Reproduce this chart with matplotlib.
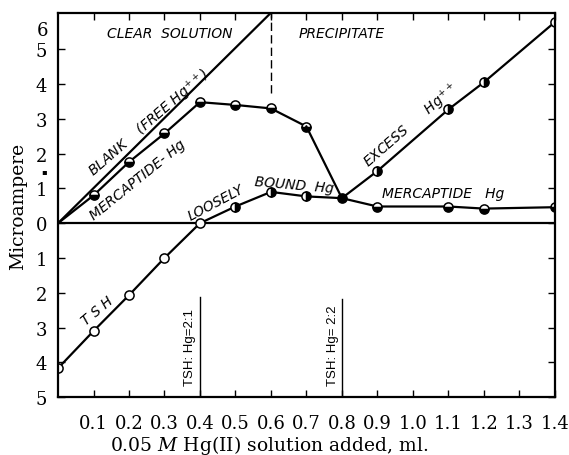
import matplotlib
matplotlib.use("Agg")
import matplotlib.pyplot as plt

# ---- data ----
xticks = [0.1, 0.2, 0.3, 0.4, 0.5, 0.6, 0.7, 0.8, 0.9, 1.0, 1.1, 1.2, 1.3, 1.4]
xtick_labels = ["0.1", "0.2", "0.3", "0.4", "0.5", "0.6", "0.7", "0.8", "0.9", "1.0", "1.1", "1.2", "1.3", "1.4"]
yticks = [-5, -4, -3, -2, -1, 0, 1, 2, 3, 4, 5]
ytick_labels = ["5", "4", "3", "2", "1", "0", "1", "2", "3", "4", "5"]

blank_x = [0.0, 0.6]
blank_y = [0.0, 6.05]

merc_x = [0.0, 0.1, 0.2, 0.3, 0.4, 0.5, 0.6, 0.7]
merc_y = [0.0, 0.80, 1.76, 2.58, 3.48, 3.40, 3.30, 2.78]

merc2_x = [0.7, 0.8, 0.9, 1.1, 1.2, 1.4]
merc2_y = [2.78, 0.72, 0.48, 0.48, 0.42, 0.46]

loose_x = [0.4, 0.5, 0.6, 0.7, 0.8]
loose_y = [0.0, 0.48, 0.90, 0.77, 0.72]

excess_x = [0.8, 0.9, 1.1, 1.2, 1.4]
excess_y = [0.72, 1.50, 3.27, 4.05, 5.78]

tsh_x = [0.0, 0.1, 0.2, 0.3, 0.4]
tsh_y = [-4.17, -3.10, -2.07, -1.00, 0.0]

plt.rcParams['mathtext.fontset'] = 'dejavuserif'

fig = plt.figure(figsize=(5.69, 4.56), dpi=100)
ax = fig.add_axes([0.102, 0.127, 0.873, 0.842])
ax.set_xlim(0, 1.4)
ax.set_ylim(-5, 6.04)

lw = 1.6
ms = 6.6
mk = dict(marker='o', markersize=ms, markeredgecolor='black', markerfacecolor='black',
          markerfacecoloralt='white', markeredgewidth=1.1)

# zero line
ax.axhline(0, color='black', lw=lw)

# blank
ax.plot(blank_x, blank_y, color='black', lw=lw)
# mercaptide rising part
ax.plot(merc_x, merc_y, color='black', lw=lw, fillstyle='bottom', markevery=list(range(1, len(merc_x))), **mk)
# mercaptide after 0.7
ax.plot(merc2_x, merc2_y, color='black', lw=lw, fillstyle='bottom', markevery=[2, 3, 4, 5], **mk)
# loosely bound
ax.plot(loose_x, loose_y, color='black', lw=lw, fillstyle='right', markevery=[1, 2, 3], **mk)
# excess
ax.plot(excess_x, excess_y, color='black', lw=lw, fillstyle='right', markevery=[1, 2, 3, 4], **mk)
# junction point at 0.8
ax.plot([excess_x[0]], [excess_y[0]], color='black', fillstyle='full', **mk)
# TSH
ax.plot(tsh_x, tsh_y, color='black', lw=lw, marker='o', markersize=ms, markeredgecolor='black',
        markerfacecolor='white', markeredgewidth=1.1)

# vertical reference lines
ax.plot([0.6, 0.6], [3.75, 6.04], color='black', lw=1.0, ls=(0, (6, 3)))
ax.plot([0.4, 0.4], [-5, -2.13], color='black', lw=1.0)
ax.plot([0.8, 0.8], [-5, -2.17], color='black', lw=1.0)

# ticks
fs = 13
ax.set_xticks(xticks)
ax.set_xticklabels(xtick_labels, family='DejaVu Serif', fontsize=fs)
ax.set_yticks(yticks)
ax.set_yticklabels(ytick_labels, family='DejaVu Serif', fontsize=fs)
ax.tick_params(axis='both', direction='in', length=5, width=1, top=True, right=True)
ax.tick_params(axis='x', pad=12)
ax.tick_params(axis='y', pad=8)
for s in ax.spines.values():
    s.set_linewidth(1.6)

ax.text(-0.02, 5.55, "6", transform=ax.get_yaxis_transform(), ha='right', va='center',
        family='DejaVu Serif', fontsize=fs)
ax.text(-0.028, 1.52, "\u25aa", transform=ax.get_yaxis_transform(), ha='center', va='center',
        family='DejaVu Sans', fontsize=6)

ax.set_xlabel("0.05 $M$ Hg(II) solution added, ml.", family='DejaVu Serif', fontsize=13.5,
              x=0.425, labelpad=1)
ax.set_ylabel("Microampere", family='DejaVu Serif', fontsize=13.5, y=0.5, labelpad=6)

# annotations
tk = dict(family='DejaVu Sans', style='italic', color='black', ha='center', va='center')
afs = 10
ax.text(0.315, 5.47, "CLEAR  SOLUTION", fontsize=afs, **tk)
ax.text(0.80, 5.47, "PRECIPITATE", fontsize=afs, **tk)
ax.text(0.255, 2.9, "BLANK    (FREE Hg$^{++}$)", fontsize=afs, rotation=41, **tk)
ax.text(0.225, 1.27, "MERCAPTIDE- Hg", fontsize=afs, rotation=39, **tk)
ax.text(0.445, 0.6, "LOOSELY", fontsize=afs, rotation=28, **tk)
ax.text(0.665, 1.12, "BOUND  Hg", fontsize=afs, rotation=-5, **tk)
ax.text(0.995, 2.85, "EXCESS      Hg$^{++}$", fontsize=afs, rotation=41, **tk)
ax.text(1.085, 0.86, "MERCAPTIDE   Hg", fontsize=afs, **tk)
ax.text(0.11, -2.5, "T S H", fontsize=afs, rotation=40, **tk)
ax.text(0.372, -3.55, "TSH: Hg=2:1", fontsize=9.5, rotation=90, family='Liberation Sans',
        ha='center', va='center')
ax.text(0.776, -3.5, "TSH: Hg= 2:2", fontsize=9.5, rotation=90, family='Liberation Sans',
        ha='center', va='center')

fig.savefig("out.png", dpi=100)
